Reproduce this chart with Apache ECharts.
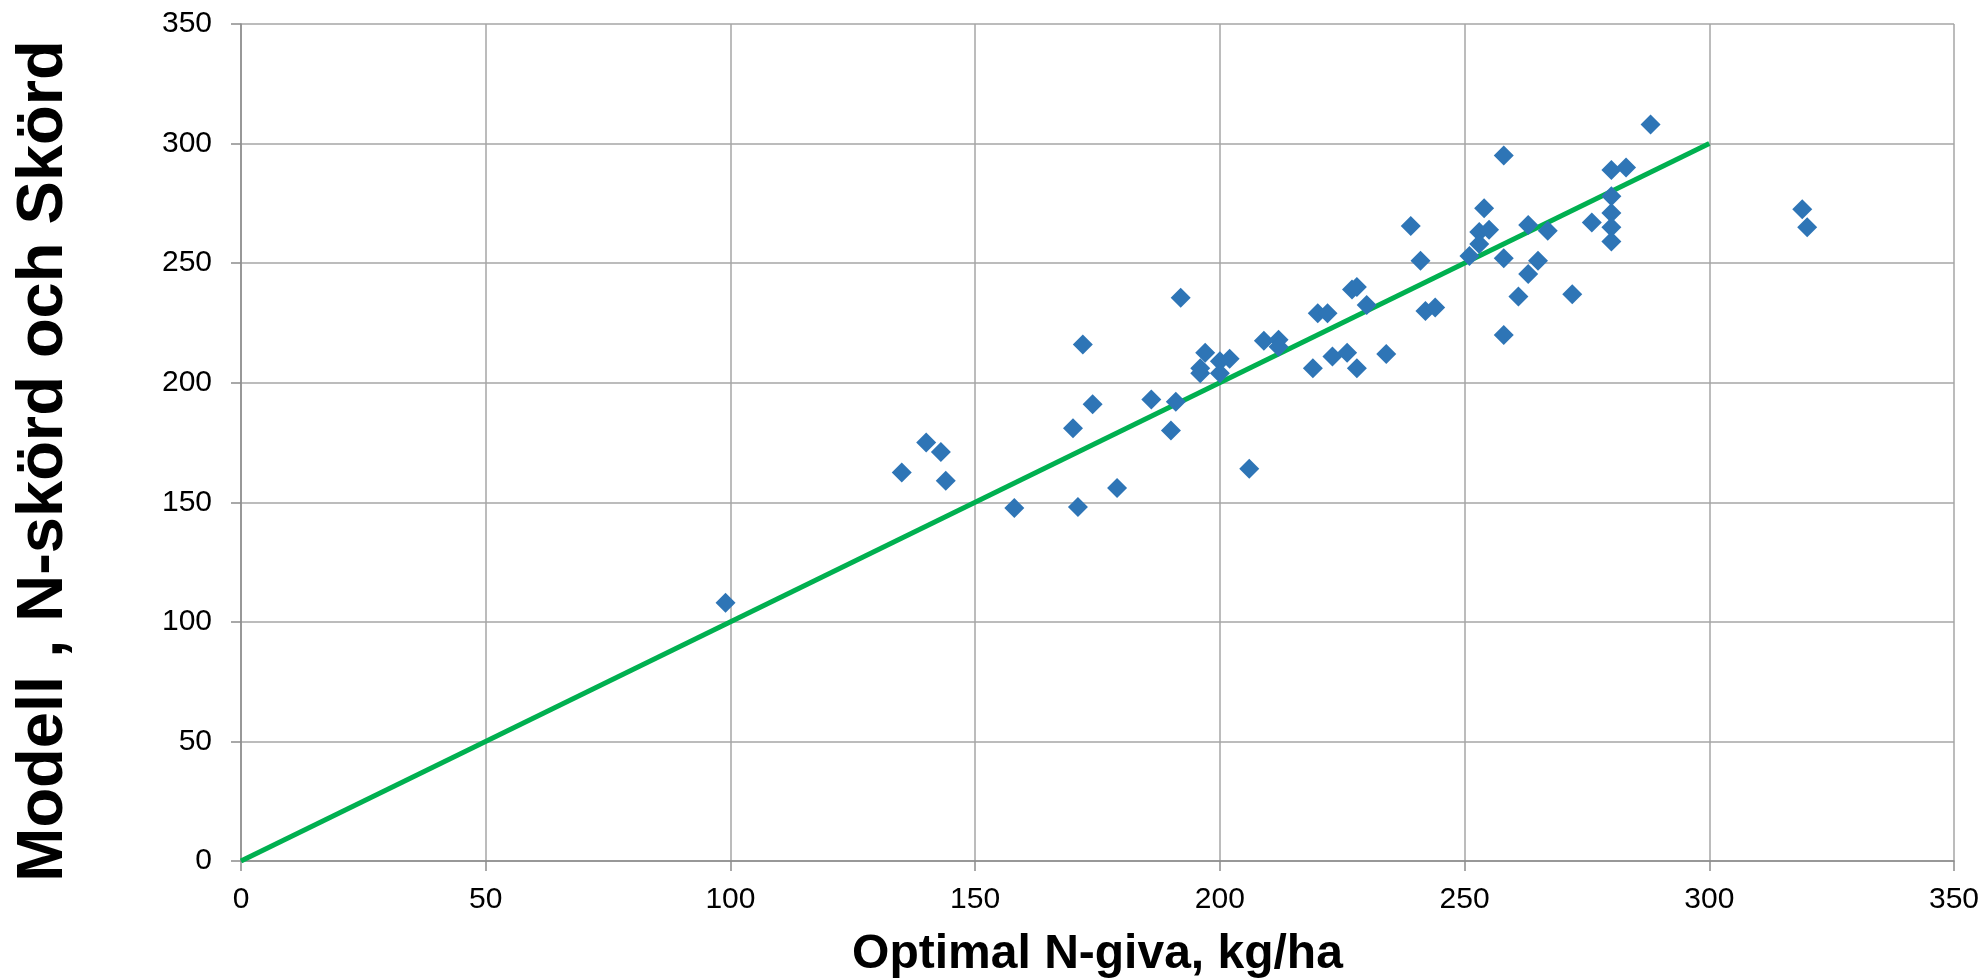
<!DOCTYPE html>
<html>
<head>
<meta charset="utf-8">
<script src="https://cdn.jsdelivr.net/npm/echarts@6/dist/echarts.min.js"></script>
<style>
html,body{margin:0;padding:0;background:#fff;}
#chart{width:1985px;height:980px;}
</style>
</head>
<body>
<div id="chart"></div>
<script>
// Data
const optimalN = [99,135,140,143,144,158,170,171,172,174,179,186,190,191,192,196,196,197,200,200,202,206,209,212,212,219,220,222,223,226,227,228,228,230,234,239,241,242,244,251,253,253,254,255,258,258,258,261,263,263,265,267,272,276,280,280,280,280,280,283,288,319,320];
const modelN = [108,162.5,175,171,159,147.6,181,148,216,191,156,193,180,192,235.5,204,206,212.5,209,204,210,164,217.5,218,215,206,229,229,211,212.5,239,240,206,232.5,212,265.5,251,230,231.5,253,263,258,273,264,295,252,220,236,245.5,266,251,263.5,237,267,289,278,271,265,259,290,308,272.5,265];
const lineX = [0, 300];
const lineY = [0, 300];
const xTitle = 'Optimal N-giva, kg/ha';
const yTitle = 'Modell , N-skörd och Skörd';

const chart = echarts.init(document.getElementById('chart'), null, {renderer: 'canvas'});
const font = '"Liberation Sans", Arial, sans-serif';
const option = {
  animation: false,
  backgroundColor: '#ffffff',
  grid: {left: 241, right: 31, top: 24, bottom: 119, containLabel: false, outerBoundsMode: 'none'},
  xAxis: {
    type: 'value', min: 0, max: 350, interval: 50,
    axisLine: {show: true, onZero: false, lineStyle: {color: '#8c8c8c', width: 1.5}},
    axisTick: {show: true, length: 10, lineStyle: {color: '#8c8c8c', width: 1.5}},
    axisLabel: {color: '#000', fontSize: 30, fontFamily: font, margin: 24},
    splitLine: {show: true, lineStyle: {color: '#a6a6a6', width: 1.5}},
    name: xTitle, nameLocation: 'middle', nameGap: 70,
    nameTextStyle: {color: '#000', fontSize: 48, fontWeight: 'bold', fontFamily: font}
  },
  yAxis: {
    type: 'value', min: 0, max: 350, interval: 50,
    axisLine: {show: true, onZero: false, lineStyle: {color: '#8c8c8c', width: 1.5}},
    axisTick: {show: true, length: 10, lineStyle: {color: '#8c8c8c', width: 1.5}},
    axisLabel: {color: '#000', fontSize: 30, fontFamily: font, margin: 29},
    splitLine: {show: true, lineStyle: {color: '#a6a6a6', width: 1.5}}
  },
  graphic: [{
    type: 'text', x: 44, y: 461,
    rotation: Math.PI / 2,
    style: {text: yTitle, fill: '#000', font: 'bold 65px ' + font, textAlign: 'center', textVerticalAlign: 'middle'}
  }],
  series: [
    {
      type: 'line', data: lineX.map((x, i) => [x, lineY[i]]),
      showSymbol: false, symbol: 'none',
      lineStyle: {color: '#00b050', width: 5}, z: 2
    },
    {
      type: 'scatter', data: optimalN.map((x, i) => [x, modelN[i]]),
      symbol: 'diamond', symbolSize: 20,
      itemStyle: {color: '#2e75b6', opacity: 1}, z: 3
    }
  ]
};
chart.setOption(option);
</script>
</body>
</html>
